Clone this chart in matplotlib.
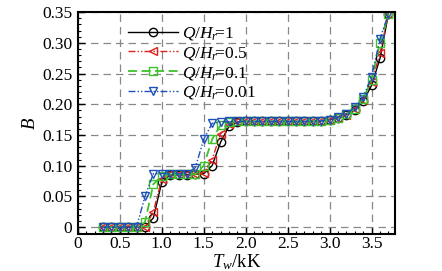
import numpy as np
import matplotlib.pyplot as plt
from matplotlib.ticker import MultipleLocator, FixedLocator, FixedFormatter

plt.rcParams['font.family'] = 'Liberation Serif'
plt.rcParams['mathtext.fontset'] = 'custom'
plt.rcParams['mathtext.rm'] = 'Liberation Serif'
plt.rcParams['mathtext.it'] = 'Liberation Serif:italic'

# wall temperature, kK
T = [0.3, 0.4, 0.5, 0.6, 0.7, 0.8, 0.9, 1.0, 1.1, 1.2, 1.3, 1.4, 1.5, 1.6, 1.7, 1.8,
     1.9, 2.0, 2.1, 2.2, 2.3, 2.4, 2.5, 2.6, 2.7, 2.8, 2.9, 3.0, 3.1, 3.2, 3.3, 3.4,
     3.5, 3.6, 3.7]

B_1 = [0, 0, 0, 0, 0, 0.0, 0.015, 0.073, 0.085, 0.085, 0.085, 0.086, 0.087, 0.100,
       0.138, 0.164, 0.171, 0.172, 0.172, 0.172, 0.172, 0.172, 0.172, 0.172, 0.172,
       0.172, 0.173, 0.175, 0.178, 0.183, 0.191, 0.205, 0.231, 0.275, 0.347]
B_05 = [0, 0, 0, 0, 0, 0.0, 0.025, 0.078, 0.086, 0.086, 0.086, 0.086, 0.088, 0.110,
        0.152, 0.168, 0.172, 0.172, 0.172, 0.172, 0.172, 0.172, 0.172, 0.172, 0.172,
        0.172, 0.173, 0.175, 0.178, 0.183, 0.192, 0.207, 0.236, 0.283, 0.347]
B_01 = [0, 0, 0, 0, 0, 0.008, 0.070, 0.083, 0.086, 0.086, 0.086, 0.086, 0.100, 0.143,
        0.166, 0.171, 0.172, 0.172, 0.172, 0.172, 0.172, 0.172, 0.172, 0.172, 0.172,
        0.172, 0.173, 0.175, 0.178, 0.184, 0.193, 0.209, 0.240, 0.300, 0.347]
B_001 = [0, 0, 0, 0, 0, 0.050, 0.087, 0.087, 0.087, 0.087, 0.087, 0.097, 0.143, 0.169,
         0.171, 0.172, 0.172, 0.172, 0.172, 0.172, 0.172, 0.172, 0.172, 0.172, 0.172,
         0.172, 0.173, 0.175, 0.179, 0.185, 0.195, 0.212, 0.245, 0.307, 0.347]

labels = [r'$Q/H_r\!$=1', r'$Q/H_r\!$=0.5', r'$Q/H_r\!$=0.1', r'$Q/H_r\!$=0.01']

xticks = [0, 0.5, 1.0, 1.5, 2.0, 2.5, 3.0, 3.5]
xticklabels = ['0', '0.5', '1.0', '1.5', '2.0', '2.5', '3.0', '3.5']
yticks = [0, 0.05, 0.10, 0.15, 0.20, 0.25, 0.30, 0.35]
yticklabels = ['0', '0.05', '0.10', '0.15', '0.20', '0.25', '0.30', '0.35']

fig = plt.figure(figsize=(4.42, 2.71), dpi=100)
ax = fig.add_axes([0.176, 0.137, 0.718, 0.818])

ax.plot(T, B_1, color='black', ls='-', lw=1.0, marker='o', ms=6, mfc='none',
        mew=1.0, label=labels[0])
ax.plot(T, B_05, color='#e0201c', ls=(0, (5, 1.5, 1, 1.5, 1, 1.5)), lw=1.0,
        marker='<', ms=6, mfc='none', mew=1.0, label=labels[1])
ax.plot(T, B_01, color='#3cc22a', ls=(0, (5, 2.5)), lw=1.3, marker='s', ms=6,
        mfc='none', mew=1.0, label=labels[2])
ax.plot(T, B_001, color='#1f4fb8', ls=(0, (5, 1.5, 1, 1.5, 1, 1.5)), lw=1.0,
        marker='v', ms=6, mfc='none', mew=1.0, label=labels[3])

ax.set_xlim(0, 3.78)
ax.set_ylim(-0.011, 0.35)
ax.xaxis.set_major_locator(FixedLocator(xticks))
ax.xaxis.set_major_formatter(FixedFormatter(xticklabels))
ax.yaxis.set_major_locator(FixedLocator(yticks))
ax.yaxis.set_major_formatter(FixedFormatter(yticklabels))
ax.xaxis.set_minor_locator(MultipleLocator(0.1))
ax.yaxis.set_minor_locator(MultipleLocator(0.01))
ax.tick_params(which='major', direction='in', length=5, width=1, labelsize=12.5)
ax.tick_params(axis='x', which='major', pad=1.5)
ax.tick_params(axis='y', which='major', pad=4)
ax.tick_params(which='minor', direction='in', length=2.5, width=0.8)
for s in ax.spines.values():
    s.set_linewidth(1.5)

ax.grid(True, which='major', color='#888888', ls=(0, (6, 4)), lw=0.9)

ax.set_xlabel(r'$T_w$/kK', fontsize=13.5, labelpad=0)
ax.set_ylabel(r'$B$', fontsize=13.5, labelpad=2)

ax.legend(loc='upper left', bbox_to_anchor=(0.12, 0.995), frameon=False,
          fontsize=12.5, handlelength=2.9, handletextpad=0.2, labelspacing=0.15,
          borderaxespad=0.3)

fig.savefig('out.png', dpi=100)
